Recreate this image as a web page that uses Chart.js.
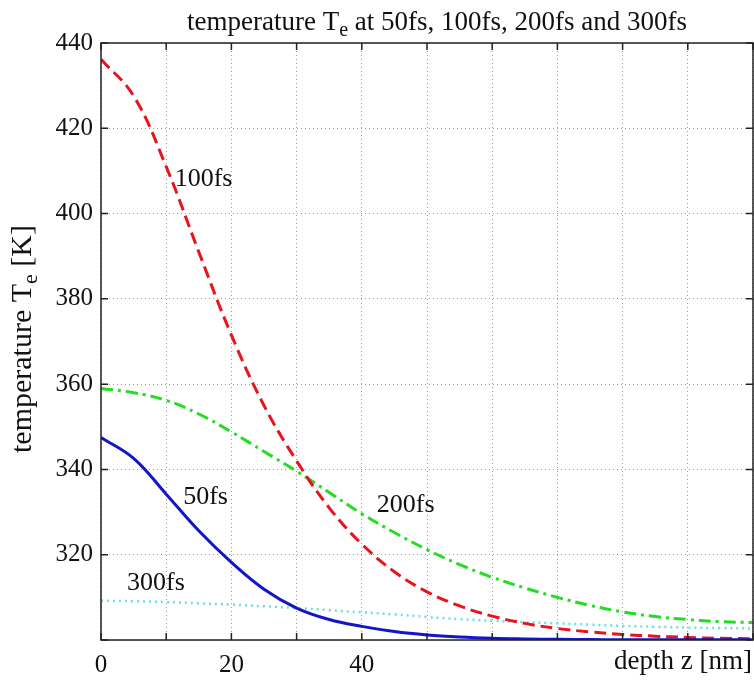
<!DOCTYPE html>
<html>
<head>
<meta charset="utf-8">
<script src="https://cdn.jsdelivr.net/npm/chart.js@4.4.1/dist/chart.umd.min.js"></script>
<style>
  html, body { margin: 0; padding: 0; background: #fff; }
  #wrap { width: 754px; height: 681px; }
</style>
</head>
<body>
<div id="wrap"><canvas id="tempChart" width="754" height="681"></canvas></div>
<script>
// depth z [nm]
const depth = [0, 5, 10, 15, 20, 25, 30, 35, 40, 45, 50, 55, 60, 65, 70, 75, 80, 85, 90, 95, 100];
// electron temperature Te [K] at each time
const te50 = [347.5, 342.6, 334.2, 325.6, 318.2, 311.9, 307.5, 304.8, 303.2, 302.0, 301.2, 300.7, 300.4, 300.25, 300.15, 300.1, 300.08, 300.06, 300.05, 300.04, 300.03];
const te100 = [436.2, 427.6, 411.0, 391.0, 371.5, 355.0, 342.0, 331.0, 322.5, 316.0, 311.3, 308.0, 305.6, 303.9, 302.7, 301.9, 301.3, 300.9, 300.6, 300.4, 300.3];
const te200 = [359.0, 358.0, 356.2, 353.0, 348.8, 344.2, 339.6, 334.6, 329.6, 325.2, 321.2, 317.7, 314.7, 312.2, 310.0, 308.1, 306.6, 305.5, 304.8, 304.3, 304.1];
const te300 = [309.2, 309.1, 308.9, 308.6, 308.3, 307.9, 307.5, 307.0, 306.5, 306.0, 305.4, 304.9, 304.5, 304.2, 303.9, 303.6, 303.3, 303.1, 302.9, 302.8, 302.7];

const xTickLabels = [0, 20, 40];
const yTickMin = 300, yTickMax = 440, yTickStep = 20;

// curve labels, placed in data units
const curveLabels = [
    { text: '100fs', x: 11.3, y: 408 },
    { text: '50fs', x: 12.6, y: 333.5 },
    { text: '200fs', x: 42.3, y: 331.6 },
    { text: '300fs', x: 4.0, y: 313.4 }
];

const serif = '"Liberation Serif", "DejaVu Serif", serif';

function pts(ys) {
    return depth.map((d, i) => ({ x: d, y: ys[i] }));
}

// draw text with a subscript part centred on x
function drawSubText(ctx, parts, size, subSize, x, y) {
    let total = 0;
    parts.forEach(p => {
        ctx.font = (p.sub ? subSize : size) + 'px ' + serif;
        p.w = ctx.measureText(p.t).width;
        total += p.w;
    });
    let cx = x - total / 2;
    parts.forEach(p => {
        ctx.font = (p.sub ? subSize : size) + 'px ' + serif;
        ctx.fillText(p.t, cx, p.sub ? y + 6 : y);
        cx += p.w;
    });
}

const frame = {
    id: 'frame',
    afterDraw(chart) {
        const ctx = chart.ctx;
        const a = chart.chartArea;
        const xs = chart.scales.x, ys = chart.scales.y;
        ctx.save();
        ctx.strokeStyle = '#222';
        ctx.lineWidth = 1.5;
        ctx.strokeRect(a.left, a.top, a.right - a.left, a.bottom - a.top);
        // inner tick marks
        ctx.beginPath();
        for (let v = 0; v <= 100; v += 10) {
            const px = xs.getPixelForValue(v);
            ctx.moveTo(px, a.bottom); ctx.lineTo(px, a.bottom - 7);
            ctx.moveTo(px, a.top); ctx.lineTo(px, a.top + 7);
        }
        for (let v = yTickMin; v <= yTickMax; v += yTickStep) {
            const py = ys.getPixelForValue(v);
            ctx.moveTo(a.left, py); ctx.lineTo(a.left + 7, py);
            ctx.moveTo(a.right, py); ctx.lineTo(a.right - 7, py);
        }
        ctx.stroke();

        ctx.fillStyle = '#111';
        ctx.textBaseline = 'middle';
        ctx.textAlign = 'left';
        ctx.font = '26px ' + serif;
        curveLabels.forEach(l => {
            ctx.fillText(l.text, xs.getPixelForValue(l.x), ys.getPixelForValue(l.y));
        });

        // x axis title at the right end
        ctx.textAlign = 'right';
        ctx.font = '27px ' + serif;
        ctx.fillText('depth z [nm]', a.right - 1, 662);

        // title
        ctx.textAlign = 'left';
        ctx.textBaseline = 'alphabetic';
        drawSubText(ctx, [
            { t: 'temperature T' },
            { t: 'e', sub: true },
            { t: ' at 50fs, 100fs, 200fs and 300fs' }
        ], 27, 20, (a.left + a.right) / 2 + 10, 30);

        // y axis title
        ctx.translate(31, 339);
        ctx.rotate(-Math.PI / 2);
        drawSubText(ctx, [
            { t: 'temperature T' },
            { t: 'e', sub: true },
            { t: ' [K]' }
        ], 30, 22, 0, 0);
        ctx.restore();
    }
};

let ctx = document.getElementById('tempChart').getContext('2d');
let tempChart = new Chart(ctx, {
    type: 'scatter',
    data: {
        datasets: [
            { label: '50fs', data: pts(te50), borderColor: '#1414c8', borderWidth: 3 },
            { label: '100fs', data: pts(te100), borderColor: '#e8141c', borderWidth: 3, borderDash: [12, 6] },
            { label: '200fs', data: pts(te200), borderColor: '#22dd22', borderWidth: 3, borderDash: [12, 5, 3, 5] },
            { label: '300fs', data: pts(te300), borderColor: '#66e0e8', borderWidth: 2.5, borderDash: [2, 4] }
        ].map(ds => Object.assign(ds, {
            showLine: true,
            pointRadius: 0,
            tension: 0.4,
            fill: false
        }))
    },
    options: {
        responsive: false,
        animation: false,
        layout: { padding: { top: 43, right: 1, left: 0, bottom: 0 } },
        plugins: {
            legend: { display: false },
            title: { display: false },
            tooltip: { enabled: false }
        },
        scales: {
            x: {
                type: 'linear',
                min: 0,
                max: 100,
                afterFit: s => { s.height = 41; s.paddingLeft = 0; s.paddingRight = 0; },
                border: { display: false, dash: [1, 3] },
                grid: { color: '#9a9a9a', drawTicks: false },
                ticks: {
                    stepSize: 10,
                    autoSkip: false,
                    maxRotation: 0,
                    padding: 10,
                    color: '#111',
                    font: { family: serif, size: 25 },
                    callback: v => xTickLabels.includes(v) ? String(v) : ''
                }
            },
            y: {
                min: yTickMin,
                max: yTickMax,
                afterFit: s => { s.width = 101; s.paddingTop = 0; s.paddingBottom = 0; },
                border: { display: false, dash: [1, 3] },
                grid: { color: '#9a9a9a', drawTicks: false },
                ticks: {
                    stepSize: yTickStep,
                    padding: 8,
                    color: '#111',
                    font: { family: serif, size: 25 },
                    callback: v => v === yTickMin ? '' : String(v)
                }
            }
        }
    },
    plugins: [frame]
});
</script>
</body>
</html>
